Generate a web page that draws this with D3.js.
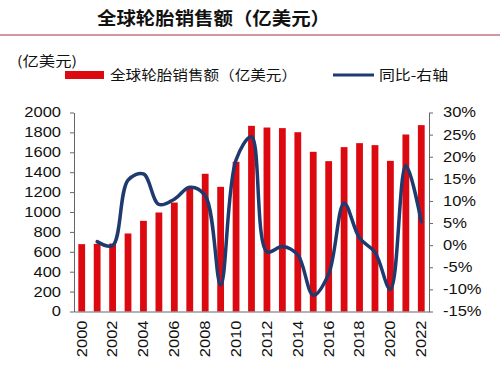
<!DOCTYPE html>
<html><head><meta charset="utf-8">
<script src="https://cdn.jsdelivr.net/npm/d3@7"></script>
<style>body{margin:0;background:#fff}</style>
</head><body>
<svg id="c" width="500" height="365"></svg>
<script>
const years = ["2000","2001","2002","2003","2004","2005","2006","2007","2008","2009","2010","2011","2012","2013","2014","2015","2016","2017","2018","2019","2020","2021","2022"];
const sales = [677,680,683,784,911,995,1095,1240,1384,1253,1504,1866,1849,1843,1802,1605,1511,1652,1692,1672,1514,1779,1873];
const yoyYears = years.slice(1);
const yoy = [0.8,-0.1,14.7,16.1,9.2,10.4,13.1,11.2,-9.0,19.3,24.5,-1.5,-0.3,-2.2,-11.3,-6.5,9.5,1.6,-1.6,-10.0,18.0,5.3];
const leftTicks = [0,200,400,600,800,1000,1200,1400,1600,1800,2000];
const rightTicks = [-15,-10,-5,0,5,10,15,20,25,30];
const xTickLabels = years.filter((d,i)=>i%2===0);

const svg = d3.select("#c");
const font = "'Liberation Sans', Arial, sans-serif";
const cjk = "'Noto Sans CJK SC', sans-serif";
const L = 74, R = 429, T = 112.5, B = 311.5;
const sx = 1.18;

const x = d3.scaleBand().domain(years).range([L, R]).paddingInner(0.56).paddingOuter(0.28);
const yL = d3.scaleLinear().domain([0, 2000]).range([B, T]);
const yR = d3.scaleLinear().domain([-15, 30]).range([B, T]);

// title
svg.append("text").attr("x", 97).attr("y", 25).attr("font-family", cjk).attr("font-weight", "bold")
  .attr("font-size", 18).attr("fill", "#111").attr("textLength", 233).attr("lengthAdjust", "spacingAndGlyphs")
  .text("全球轮胎销售额（亿美元）");
svg.append("line").attr("x1", 0).attr("x2", 500).attr("y1", 35).attr("y2", 35)
  .attr("stroke", "#b0303a").attr("stroke-width", 1.2);

// unit
svg.append("text").attr("x", 17).attr("y", 66).attr("font-family", cjk).attr("font-size", 13.5)
  .attr("fill", "#111").attr("textLength", 60).attr("lengthAdjust", "spacingAndGlyphs").text("(亿美元)");

// legend
svg.append("rect").attr("x", 65).attr("y", 71).attr("width", 39).attr("height", 8).attr("fill", "#dc0a10");
svg.append("text").attr("x", 110).attr("y", 80).attr("font-family", cjk).attr("font-size", 14)
  .attr("fill", "#111").attr("textLength", 187).attr("lengthAdjust", "spacingAndGlyphs")
  .text("全球轮胎销售额（亿美元）");
svg.append("line").attr("x1", 333).attr("x2", 374).attr("y1", 75).attr("y2", 75)
  .attr("stroke", "#1f3a6e").attr("stroke-width", 3);
svg.append("text").attr("x", 379).attr("y", 80).attr("font-family", cjk).attr("font-size", 14)
  .attr("fill", "#111").attr("textLength", 69).attr("lengthAdjust", "spacingAndGlyphs").text("同比-右轴");

// bars
svg.append("g").selectAll("rect").data(sales).join("rect")
  .attr("x", (d,i) => x(years[i])).attr("width", x.bandwidth())
  .attr("y", d => yL(d)).attr("height", d => B - yL(d)).attr("fill", "#dc0a10");

// axes
const axL = svg.append("g").attr("transform", `translate(${L},0)`)
  .call(d3.axisLeft(yL).tickValues(leftTicks).tickSize(4).tickSizeOuter(0).tickFormat(d3.format("d")));
axL.selectAll("text").attr("x", -13 / sx).attr("transform", `scale(${sx},1)`);
const axR = svg.append("g").attr("transform", `translate(${R},0)`)
  .call(d3.axisRight(yR).tickValues(rightTicks).tickSize(4).tickSizeOuter(0).tickFormat(d => d + "%"));
axR.selectAll("text").attr("x", 14 / sx).attr("transform", `scale(${sx},1)`);
const axB = svg.append("g").attr("transform", `translate(0,${B})`)
  .call(d3.axisBottom(x).tickValues(xTickLabels).tickSize(0).tickSizeOuter(0));
axB.selectAll("text").attr("transform", `rotate(-90) scale(${sx},1)`).attr("text-anchor", "end")
  .attr("x", -9 / sx).attr("y", 0).attr("dy", "0.35em");
[axL, axR, axB].forEach(a => {
  a.selectAll("text").attr("font-family", font).attr("font-size", 14).attr("fill", "#111");
  a.selectAll("line,path").attr("stroke", "#666").attr("stroke-width", 1);
});

// line
const line = d3.line().x((d,i) => x(yoyYears[i]) + x.bandwidth()/2).y(d => yR(d))
  .curve(d3.curveCatmullRom.alpha(0.5));
svg.append("path").datum(yoy).attr("d", line).attr("fill", "none")
  .attr("stroke", "#1f3a6e").attr("stroke-width", 3.5).attr("stroke-linecap", "round");
</script>
</body></html>
